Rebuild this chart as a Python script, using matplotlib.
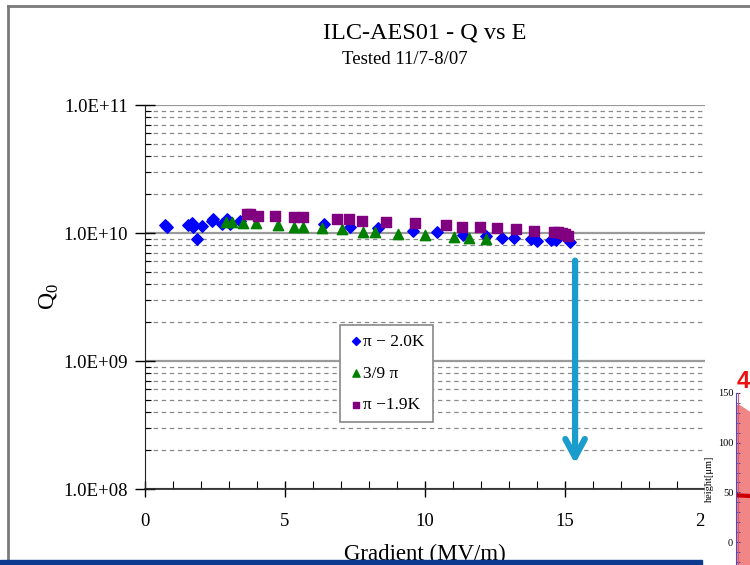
import numpy as np
import matplotlib
matplotlib.use("Agg")
import matplotlib.pyplot as plt
from matplotlib.patches import Rectangle
from matplotlib.lines import Line2D
from matplotlib.ticker import LogLocator, FixedLocator, NullFormatter

plt.rcParams['font.family'] = ['Liberation Serif', 'DejaVu Serif']
plt.rcParams['mathtext.fontset'] = 'custom'
plt.rcParams['mathtext.rm'] = 'Liberation Serif'

# gradient (MV/m) and Q0 for the three runs
e_pi_20 = [0.7, 0.8, 1.54, 1.68, 1.72, 1.86, 2.04, 2.39, 2.43, 2.75, 2.93, 3.05, 3.39,
           6.39, 7.32, 8.32, 9.57, 10.43, 11.36, 12.18, 12.75, 13.18, 13.79, 14.0,
           14.5, 14.68, 15.18]
q_pi_20 = [1.15e10, 1.12e10, 1.15e10, 1.2e10, 1.12e10, 0.9e10, 1.13e10, 1.24e10, 1.29e10,
           1.18e10, 1.28e10, 1.18e10, 1.24e10,
           1.18e10, 1.11e10, 1.09e10, 1.04e10, 1.02e10, 0.96e10, 0.95e10, 0.91e10,
           0.91e10, 0.9e10, 0.87e10, 0.88e10, 0.88e10, 0.85e10]

e_39 = [2.89, 3.1, 3.5, 3.96, 4.75, 5.32, 5.64, 6.32, 7.04, 7.79, 8.21, 9.04, 10.0,
        11.04, 11.57, 12.18]
q_39 = [1.22e10, 1.22e10, 1.2e10, 1.2e10, 1.15e10, 1.12e10, 1.12e10, 1.09e10, 1.07e10,
        1.02e10, 1.02e10, 0.98e10, 0.96e10, 0.93e10, 0.91e10, 0.9e10]

e_pi_19 = [3.64, 3.75, 4.04, 4.64, 5.32, 5.64, 6.86, 7.29, 7.75, 8.6, 9.64, 10.75,
           11.32, 11.96, 12.57, 13.25, 13.89, 14.6, 14.75, 14.9, 15.0, 15.1]
q_pi_19 = [1.41e10, 1.41e10, 1.36e10, 1.36e10, 1.33e10, 1.33e10, 1.29e10, 1.29e10,
           1.24e10, 1.22e10, 1.2e10, 1.15e10, 1.11e10, 1.11e10, 1.09e10, 1.07e10,
           1.04e10, 1.01e10, 1.01e10, 1.0e10, 0.98e10, 0.95e10]

labels = ['\u03c0 \u2212 2.0K', '3/9 \u03c0', '\u03c0 \u22121.9K']
ytick_vals = [1e8, 1e9, 1e10, 1e11]
ytick_text = ['1.0E+08', '1.0E+09', '1.0E+10', '1.0E+11']
xtick_vals = [0, 5, 10, 15, 20]

fig = plt.figure(figsize=(7.5, 5.65), dpi=100)

# slide frame
fig.add_artist(Line2D([8 / 750, 1.0], [1 - 6 / 565] * 2, color='#7a7a7a', lw=2))
fig.add_artist(Line2D([8 / 750] * 2, [0, 1 - 6 / 565], color='#7a7a7a', lw=2))

ax = fig.add_axes([145 / 750, 1 - 489 / 565, 560 / 750, 384 / 565])
ax.set_yscale('log')
ax.set_xlim(0, 20)
ax.set_ylim(1e8, 1e11)

ax.scatter(e_pi_20, q_pi_20, marker='D', s=34, color='#0000ff', zorder=3, label=labels[0])
ax.scatter(e_39, q_39, marker='^', s=55, color='#008000', zorder=3, label=labels[1])
ax.scatter(e_pi_19, q_pi_19, marker='s', s=46, color='#800080', zorder=3, label=labels[2])

ax.yaxis.set_major_locator(FixedLocator(ytick_vals))
ax.set_yticklabels(ytick_text, fontsize=13.5)
ax.yaxis.set_minor_locator(LogLocator(base=10, subs=np.arange(2, 10)))
ax.yaxis.set_minor_formatter(NullFormatter())
ax.set_xticks(xtick_vals)
ax.set_xticklabels([str(v) for v in xtick_vals], fontsize=13.5)
ax.set_xticks(np.arange(0, 21, 1), minor=True)

ax.tick_params(axis='y', which='major', direction='inout', length=14, width=1, pad=5)
ax.tick_params(axis='y', which='minor', direction='in', length=4, width=0.8)
ax.tick_params(axis='x', which='major', direction='inout', length=12, width=1, pad=11)
ax.tick_params(axis='x', which='minor', direction='in', length=6, width=0.8)

ax.grid(which='major', axis='y', color='#9a9a9a', lw=1.6, ls='-')
ax.grid(which='minor', axis='y', color='#8a8a8a', lw=0.9, ls=(0, (3.5, 3)))
ax.set_axisbelow(True)
for side in ['top', 'right']:
    ax.spines[side].set_visible(False)
ax.spines['left'].set_color('#222222')
ax.spines['bottom'].set_color('#222222')
ax.spines['bottom'].set_linewidth(1.2)

ax.set_xlabel('Gradient (MV/m)', fontsize=16.5, labelpad=10)
ax.set_ylabel(r'$\mathrm{Q}_0$', fontsize=17, labelpad=2)

fig.text(425 / 750, 1 - 33 / 565, 'ILC-AES01 - Q vs E', ha='center', va='center', fontsize=17.5)
fig.text(405 / 750, 1 - 59 / 565, 'Tested 11/7-8/07', ha='center', va='center', fontsize=13.5)

leg = ax.legend(loc='upper left', bbox_to_anchor=(0.348, 0.427), fontsize=12.5,
                frameon=True, fancybox=False, edgecolor='#888888', framealpha=1,
                handletextpad=0.05, handlelength=0.8, borderpad=0.5, labelspacing=0.9,
                borderaxespad=0, markerscale=0.7)
leg.get_frame().set_linewidth(1.2)

# downward arrow marking the drop in Q0
ax.annotate('', xy=(15.36, 1.5e8), xytext=(15.36, 6.4e9),
            arrowprops=dict(arrowstyle='->,head_length=1.3,head_width=0.7',
                            color='#1a9ccc', lw=4.5), zorder=5)

# blue footer band
fig.add_artist(Rectangle((0, 0), 702 / 750, 5 / 565, transform=fig.transFigure,
                         color='#0b3a8e', zorder=6))

# neighbouring inset plot, mostly off the page edge
fig.add_artist(Rectangle((705 / 750, 0), 45 / 750, 190 / 565, transform=fig.transFigure,
                         color='white', zorder=7))
ins = fig.add_axes([736 / 750, 0, 0.06, 1 - 393 / 565], zorder=8)
ins.set_ylim(-23, 150)
ins.set_xlim(0, 10)
ins.fill_between([0, 0.6, 10], [138, 138, 110], [-30, -30, -30], color='#f08080', alpha=0.95)
ins.axvline(0.55, color='#e05a5a', lw=0.8)
ins.plot([0, 0.3, 10], [48, 47, 45], color='#cc0000', lw=3)
ins.set_yticks([0, 50, 100, 150])
ins.set_yticklabels(['0', '50', '100', '150'], fontsize=7.5)
ins.set_yticks(np.arange(-20, 151, 10), minor=True)
ins.tick_params(axis='y', which='both', direction='in', color='#3a3ab0', length=3, pad=2)
ins.set_xticks([])
for side in ['top', 'right', 'bottom']:
    ins.spines[side].set_visible(False)
ins.spines['left'].set_color('#4a4ad0')
ins.set_ylabel('height[\u03bcm]', fontsize=7.5, labelpad=3)
fig.text(737 / 750, 1 - 381 / 565, '4', color='#ee1111', fontsize=17, fontweight='bold',
         family='Liberation Sans', ha='left', va='center', zorder=9)

fig.savefig('out.png', dpi=100)
